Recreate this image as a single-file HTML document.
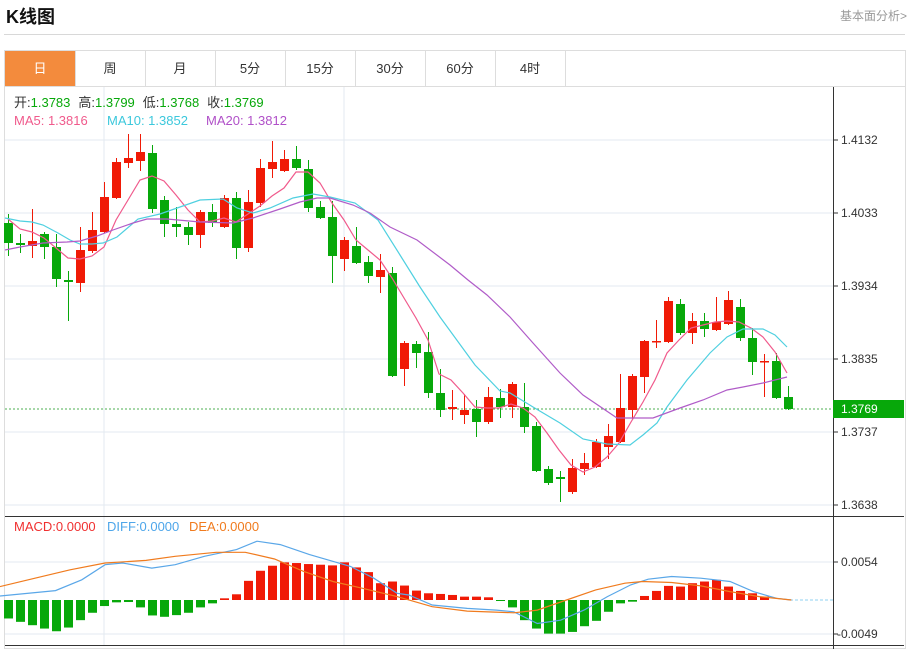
<!DOCTYPE html>
<html><head><meta charset="utf-8">
<style>
body{margin:0;background:#fff;font-family:"Liberation Sans","Noto Sans CJK SC",sans-serif;}
#t{position:absolute;left:6px;top:3px;font-size:18px;font-weight:bold;color:#111;}
#r{position:absolute;right:2px;top:7px;font-size:12px;color:#999;}
#hl{position:absolute;left:4px;top:34px;width:901px;height:1px;background:#d8d8d8;}
#box{position:absolute;left:4px;top:50px;width:900px;height:597px;border:1px solid #ddd;}
.tab{position:absolute;top:51px;height:35px;line-height:35px;text-align:center;font-size:13px;color:#333;border-right:1px solid #ddd;width:70px;}
</style></head><body>
<div id="t">K线图</div><div id="r">基本面分析&gt;</div><div id="hl"></div>
<div id="box"></div>
<div style="position:absolute;left:5px;top:86px;width:900px;height:1px;background:#ddd"></div>
<div class="tab" style="left:5px;background:#f38b3d;color:#fff">日</div>
<div class="tab" style="left:75px">周</div>
<div class="tab" style="left:145px">月</div>
<div class="tab" style="left:215px">5分</div>
<div class="tab" style="left:285px">15分</div>
<div class="tab" style="left:355px">30分</div>
<div class="tab" style="left:425px">60分</div>
<div class="tab" style="left:495px">4时</div>
<svg id="s" width="909" height="649" style="position:absolute;left:0;top:0" xmlns="http://www.w3.org/2000/svg" font-family="Liberation Sans, Noto Sans CJK SC, sans-serif" font-size="12">
<g stroke="#e3eaf0" stroke-width="1">
<line x1="5" y1="140" x2="833" y2="140"/><line x1="5" y1="213" x2="833" y2="213"/><line x1="5" y1="286" x2="833" y2="286"/><line x1="5" y1="359" x2="833" y2="359"/><line x1="5" y1="432" x2="833" y2="432"/><line x1="5" y1="505" x2="833" y2="505"/>
<line x1="104" y1="87" x2="104" y2="645"/><line x1="344" y1="87" x2="344" y2="645"/>
<line x1="5" y1="562" x2="833" y2="562"/><line x1="5" y1="634" x2="833" y2="634"/>
</g>
<line x1="833.5" y1="87" x2="833.5" y2="649" stroke="#333"/>
<line x1="5" y1="516.5" x2="904" y2="516.5" stroke="#333"/>
<line x1="5" y1="645.5" x2="904" y2="645.5" stroke="#333"/>
<g stroke="#333"><line x1="833" y1="140" x2="838" y2="140"/><line x1="833" y1="213" x2="838" y2="213"/><line x1="833" y1="286" x2="838" y2="286"/><line x1="833" y1="359" x2="838" y2="359"/><line x1="833" y1="432" x2="838" y2="432"/><line x1="833" y1="505" x2="838" y2="505"/><line x1="833" y1="562" x2="838" y2="562"/><line x1="833" y1="634" x2="838" y2="634"/></g>
<g fill="#333"><text x="841" y="144">1.4132</text><text x="841" y="217">1.4033</text><text x="841" y="290">1.3934</text><text x="841" y="363">1.3835</text><text x="841" y="436">1.3737</text><text x="841" y="509">1.3638</text><text x="841" y="566">0.0054</text><text x="837" y="638">-0.0049</text></g>
<line x1="5" y1="409" x2="833" y2="409" stroke="#4caf50" stroke-dasharray="2,2"/>
<rect x="833" y="400" width="71" height="18" fill="#07a80a"/><text x="841" y="413" fill="#fff">1.3769</text>
<line x1="790" y1="600" x2="833" y2="600" stroke="#8fd0f0" stroke-dasharray="3,2"/>
<g id="c"></g>
<g font-size="13">
<text x="14" y="107" fill="#333">开:<tspan fill="#07a80a">1.3783</tspan><tspan dx="8">高:</tspan><tspan fill="#07a80a">1.3799</tspan><tspan dx="8">低:</tspan><tspan fill="#07a80a">1.3768</tspan><tspan dx="8">收:</tspan><tspan fill="#07a80a">1.3769</tspan></text>
<text x="14" y="125" fill="#f05a8c">MA5: 1.3816</text><text x="107" y="125" fill="#3cc8dc">MA10: 1.3852</text><text x="206" y="125" fill="#b050c8">MA20: 1.3812</text>
<text x="14" y="531" fill="#f03030">MACD:0.0000</text><text x="107" y="531" fill="#4ea6ea">DIFF:0.0000</text><text x="189" y="531" fill="#f07b1e">DEA:0.0000</text>
</g>
</svg>
<script>
var K=[[223,243,214,256,'g'],[243,245,234,253,'g'],[241,246,209,258,'r'],[234,247,232,259,'g'],[247,279,234,287,'g'],[280,282,271,321,'g'],[250,283,227,292,'r'],[230,251,212,253,'r'],[197,232,182,233,'r'],[162,198,158,199,'r'],[158,163,134,168,'r'],[152,161,134,171,'r'],[153,209,145,213,'g'],[200,224,196,237,'g'],[224,227,207,237,'g'],[227,235,222,245,'g'],[212,235,210,248,'r'],[212,223,204,227,'g'],[198,227,195,228,'r'],[198,248,192,259,'g'],[202,248,190,252,'r'],[168,203,159,207,'r'],[162,169,141,178,'r'],[159,171,150,172,'r'],[159,168,146,170,'g'],[169,208,160,212,'g'],[207,218,201,219,'g'],[217,256,201,283,'g'],[240,259,237,271,'r'],[246,263,227,264,'g'],[262,276,256,283,'g'],[270,277,254,293,'r'],[273,376,267,377,'g'],[343,369,341,386,'r'],[344,353,341,368,'g'],[352,393,332,398,'g'],[393,410,369,417,'g'],[407,409,390,420,'r'],[410,415,394,424,'r'],[409,422,400,437,'g'],[397,422,387,424,'r'],[398,407,389,418,'g'],[384,407,382,418,'r'],[407,427,383,433,'g'],[426,471,422,472,'g'],[469,483,466,485,'g'],[477,479,471,502,'g'],[468,492,459,494,'r'],[463,469,453,475,'r'],[442,467,439,468,'r'],[436,447,424,459,'r'],[408,442,374,443,'r'],[376,410,374,420,'r'],[341,377,340,393,'r'],[341,342,320,348,'r'],[301,342,297,343,'r'],[304,333,299,335,'g'],[321,333,313,344,'r'],[321,329,313,337,'g'],[322,330,297,331,'r'],[300,324,291,325,'r'],[307,338,299,341,'g'],[338,362,328,375,'g'],[361,362,354,397,'r'],[361,398,353,399,'g'],[397,409,386,410,'g']];
var h='';
K.forEach(function(k,i){var x=8+12*i,c=k[4]=='r'?'#f01a06':'#07a80a';
h+='<line x1="'+(x+.5)+'" y1="'+k[2]+'" x2="'+(x+.5)+'" y2="'+k[3]+'" stroke="'+c+'"/>';
h+='<rect x="'+(x-4)+'" y="'+k[0]+'" width="9" height="'+Math.max(1.5,k[1]-k[0])+'" fill="'+c+'"/>';});
function pl(p,c){return '<polyline fill="none" stroke="'+c+'" stroke-width="1.2" points="'+p+'"/>';}
h+=pl("8,219 20,229 32,232 44,238 56,248 68,258 80,259 92,256 104,247 116,220 128,200 140,180 152,176 164,181 176,195 188,210 200,222 212,221 224,218 236,222 248,214 260,206 272,196 284,188 296,172 308,172 320,183 332,203 344,220 356,240 368,250 380,260 392,278 404,298 416,318 428,340 439,374 451,380 463,393 475,407 487,408 499,408 511,404 523,408 535,417 547,433 559,450 571,465 583,472 595,467 607,457 619,443 631,422 643,402 655,380 667,353 679,340 691,328 703,325 715,322 727,321 739,322 751,328 763,337 775,352 787,373","#f05a8c");
h+=pl("5,218 20,221 32,222 43,225 58,233 70,240 80,244 92,244 103,243 117,237 138,219 160,214 180,207 200,200 223,199 237,208 253,213 270,208 293,198 313,194 330,197 355,203 378,220 400,255 420,287 440,317 475,365 500,391 510,393 533,407 560,423 583,439 607,444 630,445 643,435 657,423 667,407 687,380 710,353 727,337 743,329 763,329 775,335 787,347","#4fd0e0");
h+=pl("5,250 20,247 43,243 67,242 80,241 97,236 113,230 133,223 147,219 167,219 200,222 233,223 253,218 280,209 300,202 317,198 330,198 353,205 370,213 390,227 417,240 450,265 468,280 487,295 510,317 533,343 560,373 583,395 617,418 633,418 653,418 680,408 703,400 727,390 743,387 763,383 787,377","#b05cc8");
var M=[325,335,345,355,363,352,330,308,288,277,276,292,316,320,315,308,292,280,265,253,213,183,168,158,160,163,165,167,158,173,187,220,215,227,242,250,252,255,260,260,262,273,292,330,355,370,370,365,348,332,305,280,275,258,243,228,230,220,215,210,230,243,250,260];
M.forEach(function(z,i){var x=8+12*i,y=600+(z-270)*0.336,c=z<270?'#f01a06':'#07a80a';var t=Math.min(y,600),hh=Math.max(1,Math.abs(y-600));
h+='<rect x="'+(x-4)+'" y="'+t+'" width="9" height="'+hh+'" fill="'+c+'"/>';});
function mp(a){return a.map(function(p){return (p[0]*0.584).toFixed(1)+','+(600+(p[1]-270)*0.336).toFixed(1)}).join(' ');}
h+=pl(mp([[0,258],[95,242],[140,210],[180,165],[210,160],[260,175],[300,165],[350,140],[405,120],[440,95],[480,105],[530,135],[600,170],[640,205],[680,250],[700,255],[740,285],[800,295],[850,300],[880,305],[920,340],[960,330],[1000,300],[1040,260],[1080,225],[1110,208],[1150,200],[1200,205],[1250,215],[1290,245],[1330,265],[1355,270]]),"#5aa7e8");
h+=pl(mp([[0,230],[60,205],[120,180],[180,160],[250,152],[300,140],[370,128],[420,128],[470,148],[520,185],[570,215],[620,235],[680,260],[740,290],[800,303],[880,308],[920,300],[970,270],[1020,240],[1070,220],[1100,215],[1150,218],[1200,228],[1250,245],[1300,260],[1355,270]]),"#f07b1e");
document.getElementById('c').innerHTML=h;
</script>
</body></html>
